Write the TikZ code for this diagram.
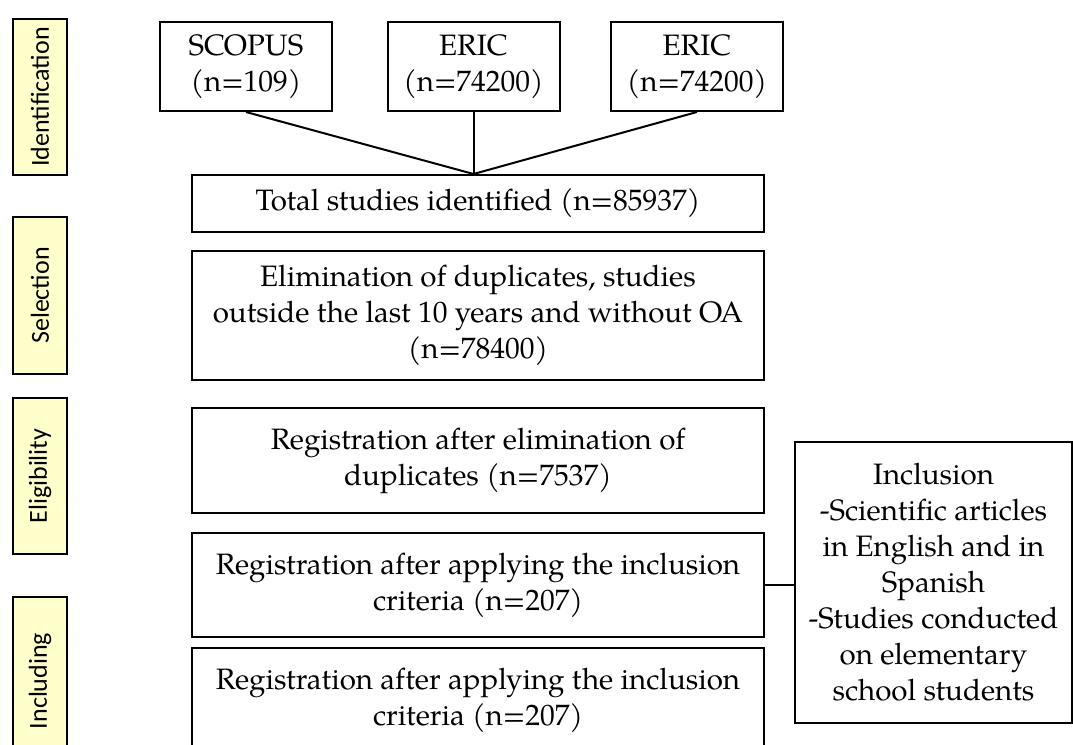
\documentclass[tikz,border=0pt]{standalone}
\usepackage{fontspec}
\setmainfont{TeX Gyre Pagella}
\newfontfamily\stagefont{Carlito}
\definecolor{stageyellow}{RGB}{255,255,204}

\begin{document}
\begin{tikzpicture}[x=0.4pt,y=-0.4pt,
  box/.style={draw,line width=0.8pt,align=center,inner sep=2pt,minimum width=228.8pt,font=\fontsize{11.8}{14.4}\selectfont},
  dbbox/.style={box,minimum width=68.8pt,minimum height=35.6pt},
  stage/.style={draw,line width=0.8pt,fill=stageyellow,rotate=90,minimum width=62.4pt,minimum height=21.6pt,inner sep=0pt,font=\stagefont\fontsize{10.4}{12}\selectfont},
  link/.style={line width=0.8pt}]
\useasboundingbox (0,0) rectangle (1073,745);
\node[stage] (L1) at (40,97) {Identification};
\node[stage] (L2) at (40,295.5) {Selection};
\node[stage] (L3) at (40,476) {Eligibility};
\node[stage,minimum width=67.2pt] (L4) at (40,681) {Including};
\node[dbbox] (D1) at (246,66.5) {SCOPUS\\(n=109)};
\node[dbbox] (D2) at (473.5,66.5) {ERIC\\(n=74200)};
\node[dbbox] (D3) at (697,66.5) {ERIC\\(n=74200)};
\node[box,minimum height=22.8pt] (B1) at (478,203.5) {Total studies identified (n=85937)};
\node[box,minimum height=51.6pt] (B2) at (478,315.5) {Elimination of duplicates, studies\\outside the last 10 years and without OA\\(n=78400)};
\node[box,minimum height=42pt] (B3) at (478,460.5) {Registration after elimination of\\duplicates (n=7537)};
\node[box,minimum height=41.6pt] (B4) at (478,585) {Registration after applying the inclusion\\criteria (n=207)};
\node[box,minimum height=41.6pt] (B5) at (478,700) {Registration after applying the inclusion\\criteria (n=207)};
\node[box,minimum width=110.8pt,minimum height=112.4pt] (I) at (933.5,582.5) {Inclusion\\-Scientific articles\\in English and in\\Spanish\\-Studies conducted\\on elementary\\school students};
\coordinate (M) at (D2.south |- B1.north);
\draw[link] (D1.south) -- (M);
\draw[link] (D2.south) -- (M);
\draw[link] (D3.south) -- (M);
\draw[link] (B4.east) -- (B4.east -| I.west);
\end{tikzpicture}
\end{document}
